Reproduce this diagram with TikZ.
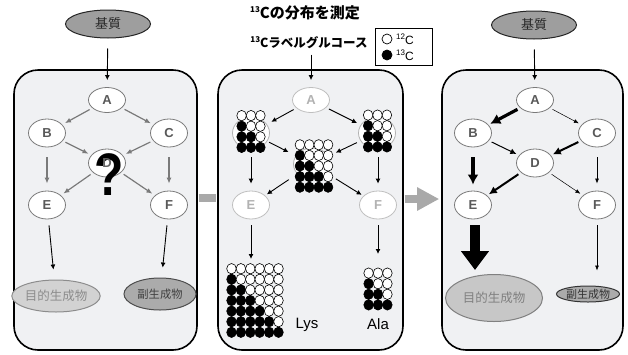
\documentclass[tikz,border=0pt]{standalone}
\usepackage{fontspec}
\setmainfont{Liberation Sans}
\newfontfamily\jp{Noto Sans CJK JP}
\newfontfamily\jpheavy{Noto Sans CJK JP Black}
\usetikzlibrary{arrows.meta,shapes.geometric}

\definecolor{panelbg}{HTML}{F0F1F3}
\definecolor{bandgray}{HTML}{A9A9A9}
\definecolor{flowgray}{HTML}{7A7A7A}
\definecolor{subfill}{HTML}{9E9E9E}
\definecolor{prodlight}{HTML}{D2D2D2}
\definecolor{prodside}{HTML}{ABABAB}

\newcommand{\isonum}[1]{\raisebox{0.42em}{\fontsize{8}{8}\selectfont #1}}

\tikzset{
  panel/.style={draw=black, line width=1.6pt, fill=panelbg, rounded corners=24pt,
    minimum height=280pt, inner sep=0pt},
  metab/.style 2 args={ellipse, draw=#1, fill=white, line width=0.8pt,
    minimum width=37pt, minimum height=28pt, inner sep=0pt, text=#2,
    font=\bfseries\fontsize{13}{13}\selectfont},
  substrate/.style={ellipse, draw=black!85, fill=subfill, line width=1pt,
    minimum width=85pt, minimum height=28pt, inner sep=0pt, text=black!85,
    font=\jp\fontsize{13}{13}\selectfont},
  graystep/.style={draw=flowgray, line width=1.2pt, -{Latex[length=6pt,width=5pt]},
    shorten >=3pt, shorten <=3pt},
  blkstep/.style={draw=black, line width=0.9pt, -{Latex[length=5pt,width=5pt]},
    shorten >=3pt, shorten <=3pt},
  band/.style={draw=bandgray, line width=7.5pt},
  pics/dotgrid/.style 2 args={code={
    \foreach \ri in {1,...,#2} {
      \foreach \ci in {1,...,#1} {
        \ifnum\ci<\ri \def\dotcol{black}\else\def\dotcol{white}\fi
        \path[draw=black, fill=\dotcol, line width=0.6pt]
          ({(\ci-(#1+1)/2)*9.4},{(\ri-(#2+1)/2)*10.6})
          ellipse [x radius=4.8, y radius=5.2];
      }
    }
  }},
}

\begin{document}
\begin{tikzpicture}[x=1pt, y=-1pt]
\useasboundingbox (0,0) rectangle (628,354);

% ---------- panels ----------
\node[panel, minimum width=183pt] (P1) at (105.5,210) {};
\node[panel, minimum width=185pt] (P2) at (310.5,210) {};
\node[panel, minimum width=181pt] (P3) at (532.5,210) {};

% transitions between panels
\draw[band, shorten <=0.8pt, shorten >=0.8pt]
  ([yshift=12pt]P1.east) -- ([yshift=12pt]P2.west);
\draw[band, -{Triangle[length=22pt,width=22pt]}, shorten <=0.8pt, shorten >=2pt]
  ([yshift=11pt]P2.east) -- ([yshift=11pt]P3.west);

% ---------- left panel: unknown flux ----------
\node[substrate] (lS) at (108,24) {基質};
\node[metab={flowgray}{black!65}, minimum height=25pt] (lA) at (107,100) {A};
\node[metab={flowgray}{black!65}] (lB) at (47,133) {B};
\node[metab={flowgray}{black!65}] (lC) at (169,133) {C};
\node[metab={flowgray}{black!65}] (lD) at (107,163) {};
\node[metab={flowgray}{black!65}] (lE) at (47,205) {E};
\node[metab={flowgray}{black!65}] (lF) at (169,205) {F};
\node[ellipse, draw=black!45, fill=prodlight, line width=1pt, minimum width=82pt,
  minimum height=32pt, inner sep=0pt, text=black!45,
  font=\jp\fontsize{12.5}{12.5}\selectfont] (lP) at (56,296) {目的生成物};
\node[ellipse, draw=black!70, fill=prodside, line width=1pt, minimum width=72pt,
  minimum height=32pt, inner sep=0pt, text=black!75,
  font=\jp\fontsize{11.3}{11.3}\selectfont] (lQ) at (160,294) {副生成物};

\draw[blkstep, shorten <=10pt, shorten >=7pt] (lS) -- (lA);
\draw[graystep] (lA) -- (lB);
\draw[graystep] (lA) -- (lC);
\draw[graystep] (lB) -- (lD);
\draw[graystep] (lC) -- (lD);
\draw[graystep] (lD) -- (lE);
\draw[graystep] (lD) -- (lF);
\draw[graystep, shorten <=10pt, shorten >=7pt] (lB) -- (lE);
\draw[graystep, shorten <=10pt, shorten >=7pt] (lC) -- (lF);
\draw[blkstep, shorten <=6pt, shorten >=10pt] (lE) -- (lP);
\draw[blkstep, shorten <=6pt, shorten >=10pt] (lF) -- (lQ);

% the unknown branch point: a large question mark with D still showing
\node[font=\bfseries\fontsize{60}{60}\selectfont, inner sep=0pt] (lq) at (109,175)
  {\scalebox{0.8}[1]{?}};
\node[text=black!60, font=\bfseries\fontsize{13}{13}\selectfont, inner sep=0pt]
  (lDtxt) at (lD) {D};

% ---------- middle panel: 13C labelling ----------
\node[font=\jpheavy\fontsize{15}{15}\selectfont] (title) at (305,13)
  {\isonum{13}Cの分布を測定};
\node[font=\jp\bfseries\fontsize{12.5}{12.5}\selectfont] (glc) at (309,43)
  {\isonum{13}Cラベルグルコース};

\node[draw=black, line width=1pt, fill=white, minimum width=57pt, minimum height=37pt,
  inner sep=0pt] (legend) at (403.5,46.5) {};
\node[circle, draw=black, line width=0.7pt, fill=white, minimum size=10pt, inner sep=0pt]
  (lg12) at (387,39) {};
\node[circle, draw=black, line width=0.7pt, fill=black, minimum size=10pt, inner sep=0pt]
  (lg13) at (387,55) {};
\node[anchor=west, font=\fontsize{12}{12}\selectfont, inner sep=0pt] at (396,39) {\isonum{12}C};
\node[anchor=west, font=\fontsize{12}{12}\selectfont, inner sep=0pt] at (396,55) {\isonum{13}C};

\node[metab={black!25}{black!30}, minimum height=25pt] (mA) at (311,100) {A};
\node[metab={black!30}{black!30}, minimum height=32pt] (mB) at (251,133) {};
\node[metab={black!30}{black!30}, minimum height=32pt] (mC) at (377,133) {};
\node[metab={black!30}{black!30}, minimum height=32pt] (mD) at (312,164) {};
\node[metab={black!25}{black!30}] (mE) at (251,205) {E};
\node[metab={black!25}{black!30}] (mF) at (378,205) {F};

\pic at (251,131.5) {dotgrid={3}{4}};
\pic at (377.5,131) {dotgrid={3}{4}};
\pic at (314,166) {dotgrid={4}{5}};
\pic at (255,300.5) {dotgrid={6}{7}};
\pic at (378,289) {dotgrid={3}{4}};

\coordinate (lysTop) at (251,259);
\coordinate (alaTop) at (378,254);
\node[font=\fontsize{15}{15}\selectfont] (lys) at (307,325) {Lys};
\node[font=\fontsize{15}{15}\selectfont] (ala) at (378,324) {Ala};

\draw[blkstep, shorten <=2pt, shorten >=7pt] (glc.south -| mA.north) -- (mA.north);
\draw[blkstep, shorten <=3pt, shorten >=5pt] (mA) -- (mB);
\draw[blkstep, shorten <=3pt, shorten >=4pt] (mA) -- (mC);
\draw[blkstep, shorten <=2pt, shorten >=8pt] (mB) -- (mD);
\draw[blkstep, shorten <=4pt, shorten >=8pt] (mC) -- (mD);
\draw[blkstep, shorten <=10pt, shorten >=2pt] (mD) -- (mE);
\draw[blkstep, shorten <=10pt, shorten >=2pt] (mD) -- (mF);
\draw[blkstep, shorten <=8pt, shorten >=7pt] (mB) -- (mE);
\draw[blkstep, shorten <=8pt, shorten >=7pt] (mC.south -| mF) -- (mF);
\draw[blkstep, shorten <=6pt, shorten >=0pt] (mE) -- (lysTop);
\draw[blkstep, shorten <=6pt, shorten >=0pt] (mF) -- (alaTop);

% ---------- right panel: resolved fluxes ----------
\node[substrate] (rS) at (534,25) {基質};
\node[metab={flowgray}{black!65}, minimum height=25pt] (rA) at (535,100) {A};
\node[metab={flowgray}{black!65}] (rB) at (473,133) {B};
\node[metab={flowgray}{black!65}] (rC) at (597,133) {C};
\node[metab={flowgray}{black!65}] (rD) at (535,163) {D};
\node[metab={flowgray}{black!65}] (rE) at (473,205) {E};
\node[metab={flowgray}{black!65}] (rF) at (597,205) {F};
\node[ellipse, draw=black!50, fill=black!22, line width=1pt, minimum width=97pt,
  minimum height=47pt, inner sep=0pt, text=black!50,
  font=\jp\fontsize{12.5}{12.5}\selectfont] (rP) at (494,298) {目的生成物};
\node[ellipse, draw=black!80, fill=prodside, line width=1pt, minimum width=63pt,
  minimum height=16pt, inner sep=0pt, text=black!80,
  font=\jp\fontsize{11}{11}\selectfont] (rQ) at (588,294) {副生成物};

\draw[blkstep, shorten <=10pt, shorten >=7pt] (rS) -- (rA);
\draw[black, line width=3.2pt, -{Latex[length=10pt,width=11pt]},
  shorten <=3pt, shorten >=2pt] (rA) -- (rB);
\draw[black, line width=0.5pt, -{Latex[length=5pt,width=4pt]},
  shorten <=3pt, shorten >=3pt] (rA) -- (rC);
\draw[black, line width=1pt, -{Latex[length=6pt,width=6pt]},
  shorten <=3pt, shorten >=3pt] (rB) -- (rD);
\draw[black, line width=2pt, -{Latex[length=8pt,width=8pt]},
  shorten <=3pt, shorten >=2pt] (rC) -- (rD);
\draw[black, line width=2pt, -{Latex[length=8pt,width=8pt]},
  shorten <=3pt, shorten >=2pt] (rD) -- (rE);
\draw[black, line width=0.5pt, -{Latex[length=5pt,width=4pt]},
  shorten <=3pt, shorten >=3pt] (rD) -- (rF);
\draw[black, line width=3.2pt, -{Latex[length=10pt,width=11pt]},
  shorten <=10pt, shorten >=6pt] (rB) -- (rE);
\draw[black, line width=0.7pt, -{Latex[length=5pt,width=4pt]},
  shorten <=10pt, shorten >=7pt] (rC) -- (rF);
\draw[black, line width=10pt, -{Triangle[length=19pt,width=27pt]},
  shorten <=6pt, shorten >=4pt] (rE.south -| 475,0) -- (rP.north -| 475,0);
\draw[black, line width=0.6pt, -{Latex[length=5pt,width=4pt]},
  shorten <=6pt, shorten >=15pt] (rF) -- (rF |- rQ.north);
\end{tikzpicture}
\end{document}
